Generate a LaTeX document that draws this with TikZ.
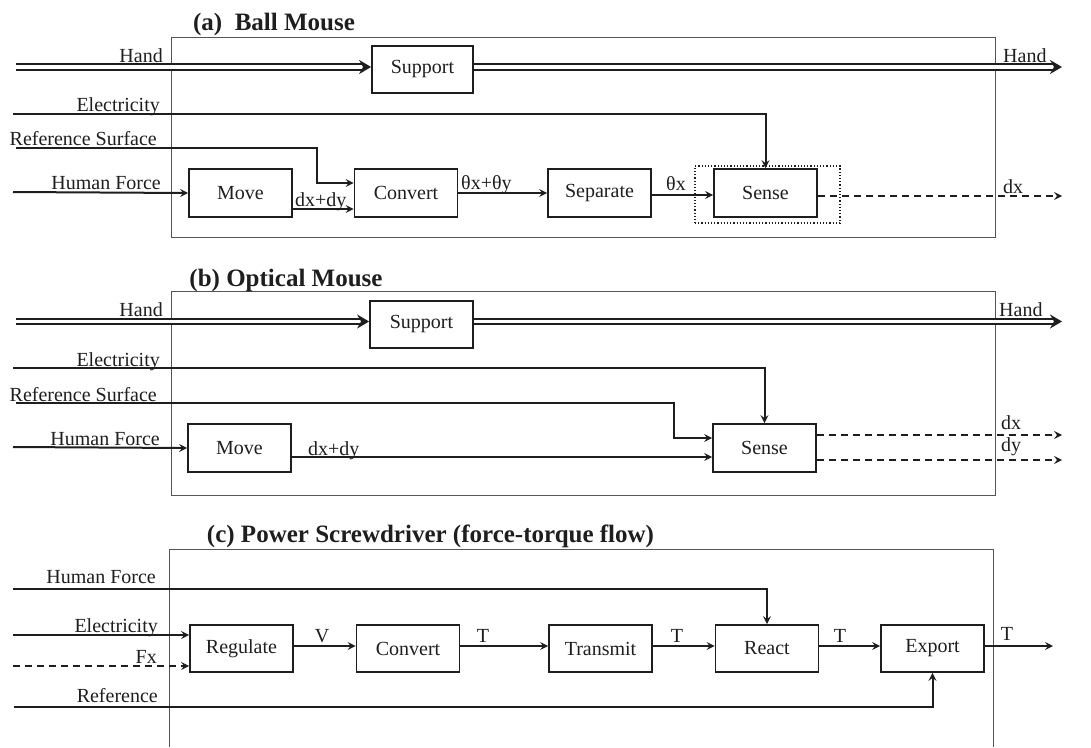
\documentclass[tikz,border=0pt]{standalone}
\usepackage{fontspec}
\setmainfont{Liberation Serif}
\usetikzlibrary{arrows.meta,calc}
\definecolor{ink}{HTML}{1E1E1E}
\definecolor{framec}{HTML}{555555}
\begin{document}
\begin{tikzpicture}[x=1pt,y=-1pt,
  every node/.style={font=\fontsize{20}{24}\selectfont, text=ink},
  lbl/.style={inner sep=0pt},
  ttl/.style={inner sep=0pt, anchor=base, font=\fontsize{25}{30}\selectfont\bfseries},
  fbox/.style={draw=ink, line width=1.8pt, minimum width=103pt, minimum height=48pt, inner sep=0pt},
  frm/.style={draw=framec, line width=1pt},
  flow/.style={draw=ink, line width=2pt, -{Stealth[length=8pt,width=8pt,inset=3pt]}},
  sig/.style={flow, dash pattern=on 7pt off 5pt},
  hand/.style={draw=ink, line width=2.2pt, double=white, double distance=3.5pt, -{Stealth[length=12pt,width=14pt,inset=4pt]}},
  dotbox/.style={draw=ink, line width=1.2pt, dotted, minimum width=145pt, minimum height=57pt, inner sep=0pt}
]
\useasboundingbox (0,0) rectangle (1091,747);

% ================= (a) Ball Mouse =================
\draw[frm] (171,37) rectangle (995,237);
\node[ttl] (ta) at (274,30) {(a)\ \ Ball Mouse};
\node[fbox, minimum width=101pt, minimum height=47pt] (supA) at (422.5,69.5) {Support};
\node[fbox] (movA) at (240.5,193) {Move};
\node[fbox] (cnvA) at (406,193) {Convert};
\node[fbox] (sepA) at (599.5,193) {Separate};
\node[fbox] (snsA) at (765.5,193) {Sense};
\node[dotbox] (dotA) at (767.5,194.5) {};

\coordinate (handAi) at (16,67);
\coordinate (handAo) at (1062,67);
\coordinate (elA) at (13,114);
\coordinate (refA) at (16,148);
\coordinate (refAk) at (317,148);
\coordinate (hfA) at (13,192);
\coordinate (dxA) at (1062,196);

\draw[hand] (handAi) -- ([yshift=2.5pt]supA.west);
\draw[hand] ([yshift=2.5pt]supA.east) -- (handAo);
\draw[flow] (elA) -| (snsA.north);
\draw[flow] (refA) -- (refAk) |- ([yshift=10pt]cnvA.west);
\draw[flow] (hfA) -- (movA.west);
\draw[flow] ([yshift=-16pt]movA.east) -- ([yshift=-16pt]cnvA.west);
\draw[flow] (cnvA.east) -- (sepA.west);
\draw[flow] ([yshift=-2pt]sepA.east) -- ([yshift=-2pt]snsA.west);
\draw[sig] ([yshift=-3pt]snsA.east) -- (dxA);

\node[lbl, anchor=base east] (lHandA) at (163,62) {Hand};
\node[lbl, anchor=base east] (lElA) at (160,111) {Electricity};
\node[lbl, anchor=base east] (lRefA) at (157,145) {Reference Surface};
\node[lbl, anchor=base east] (lHfA) at (161,189) {Human Force};
\node[lbl, anchor=base west] (lHandAo) at (1003,62) {Hand};
\node[lbl, anchor=base west] (lDxA) at (1003,193) {dx};
\node[lbl, anchor=base west] (lDxyA) at (295,206) {dx+dy};
\node[lbl, anchor=base west] (lThA) at (461,189) {θx+θy};
\node[lbl, anchor=base west] (lThxA) at (666,190) {θx};

% ================= (b) Optical Mouse =================
\draw[frm] (171,291) rectangle (995,495);
\node[ttl] (tb) at (286,286) {(b) Optical Mouse};
\node[fbox, minimum width=103pt, minimum height=47pt] (supB) at (421.5,324.5) {Support};
\node[fbox] (movB) at (239.5,448) {Move};
\node[fbox] (snsB) at (764.5,448) {Sense};

\coordinate (handBi) at (16,321.5);
\coordinate (handBo) at (1062,321.5);
\coordinate (elB) at (13,368);
\coordinate (refB) at (16,403);
\coordinate (refBk) at (674,403);
\coordinate (hfB) at (13,447);
\coordinate (dxB) at (1062,435);
\coordinate (dyB) at (1062,460);

\draw[hand] (handBi) -- ([yshift=3pt]supB.west);
\draw[hand] ([yshift=3pt]supB.east) -- (handBo);
\draw[flow] (elB) -| (snsB.north);
\draw[flow] (refB) -- (refBk) |- ([yshift=10pt]snsB.west);
\draw[flow] (hfB) -- (movB.west);
\draw[flow] ([yshift=-9pt]movB.east) -- ([yshift=-9pt]snsB.west);
\draw[sig] ([yshift=13pt]snsB.east) -- (dxB);
\draw[sig] ([yshift=-12pt]snsB.east) -- (dyB);

\node[lbl, anchor=base east] (lHandB) at (163,316) {Hand};
\node[lbl, anchor=base east] (lElB) at (160,366) {Electricity};
\node[lbl, anchor=base east] (lRefB) at (157,401) {Reference Surface};
\node[lbl, anchor=base east] (lHfB) at (160,445) {Human Force};
\node[lbl, anchor=base west] (lHandBo) at (999,316) {Hand};
\node[lbl, anchor=base west] (lDxyB) at (308,455) {dx+dy};
\node[lbl, anchor=base west] (lDxB) at (1001,429) {dx};
\node[lbl, anchor=base west] (lDyB) at (1001,451) {dy};

% ================= (c) Power Screwdriver =================
\draw[frm] (169,747) -- (169,549) -- (993,549) -- (993,747);
\node[ttl] (tc) at (430.5,542) {(c) Power Screwdriver (force-torque flow)};
\node[fbox, minimum height=47pt] (regC) at (241.5,648.5) {Regulate};
\node[fbox, minimum height=47pt] (cnvC) at (408,648.5) {Convert};
\node[fbox, minimum height=47pt] (trnC) at (600.5,648.5) {Transmit};
\node[fbox, minimum height=47pt] (rctC) at (767,648.5) {React};
\node[fbox, minimum height=47pt] (expC) at (932.5,648.5) {Export};

\coordinate (hfC) at (13,589);
\coordinate (elC) at (13,635);
\coordinate (fxC) at (13,666);
\coordinate (refC) at (14,707);
\coordinate (outC) at (1053,646);

\draw[flow] (hfC) -| (rctC.north);
\draw[flow] (elC) -- ([yshift=13.5pt]regC.west);
\draw[sig] (fxC) -- ([yshift=-17.5pt]regC.west);
\draw[flow] (refC) -| (expC.south);
\draw[flow] ([yshift=2.5pt]regC.east) -- ([yshift=2.5pt]cnvC.west);
\draw[flow] ([yshift=2.5pt]cnvC.east) -- ([yshift=2.5pt]trnC.west);
\draw[flow] ([yshift=2.5pt]trnC.east) -- ([yshift=2.5pt]rctC.west);
\draw[flow] ([yshift=2.5pt]rctC.east) -- ([yshift=2.5pt]expC.west);
\draw[flow] ([yshift=2.5pt]expC.east) -- (outC);

\node[lbl, anchor=base east] (lHfC) at (156,583) {Human Force};
\node[lbl, anchor=base east] (lElC) at (158,632) {Electricity};
\node[lbl, anchor=base east] (lFxC) at (157,663) {Fx};
\node[lbl, anchor=base east] (lRefC) at (158,702) {Reference};
\node[lbl, anchor=base] (lV) at (322,642) {V};
\node[lbl, anchor=base] (lT1) at (483,642) {T};
\node[lbl, anchor=base] (lT2) at (677,642) {T};
\node[lbl, anchor=base] (lT3) at (840,642) {T};
\node[lbl, anchor=base] (lT4) at (1007,640) {T};
\end{tikzpicture}
\end{document}
